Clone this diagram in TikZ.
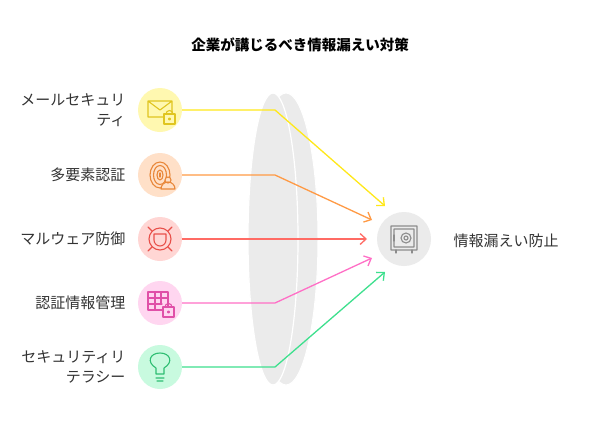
\documentclass[tikz,border=0pt]{standalone}
\usepackage{fontspec}
\setmainfont{Noto Sans CJK JP}
\usetikzlibrary{arrows.meta}
\definecolor{cYel}{HTML}{FFE81A}\definecolor{fYel}{HTML}{FFF8B0}\definecolor{iYel}{HTML}{E0C520}
\definecolor{cOra}{HTML}{FF9A45}\definecolor{fOra}{HTML}{FFE0C8}\definecolor{iOra}{HTML}{E8873A}
\definecolor{cRed}{HTML}{FF6B64}\definecolor{fRed}{HTML}{FFD6D4}\definecolor{iRed}{HTML}{E8504A}
\definecolor{cPnk}{HTML}{FF6FC6}\definecolor{fPnk}{HTML}{FFD6F0}\definecolor{iPnk}{HTML}{E050A8}
\definecolor{cGrn}{HTML}{3EE08E}\definecolor{fGrn}{HTML}{C8FADF}\definecolor{iGrn}{HTML}{2EBE72}
\definecolor{lens}{HTML}{EBEBEB}
\tikzset{
  ibg/.style={circle,minimum size=44pt,inner sep=0pt},
  lbl/.style={anchor=east,align=right,font=\fontsize{15}{20}\selectfont,text=black!80},
  link/.style={line width=1.3pt,-{Straight Barb[length=6pt,width=11pt]}},
  ico/.style={line width=1.1pt,line cap=round,line join=round}
}
\begin{document}
\begin{tikzpicture}[x=1pt,y=-1pt]
  \useasboundingbox[fill=white] (0,0) rectangle (602,429);
  %%%%% title
  \node[font=\bfseries\fontsize{14.5}{17}\selectfont] (title) at (300,45) {企業が講じるべき情報漏えい対策};
  %%%%% lens
  \fill[lens] (286,239) ellipse [x radius=32,y radius=146];
  \draw[white,line width=1pt] (286,239) ellipse [x radius=32,y radius=146];
  \draw[white,fill=lens,line width=1.2pt] (273,239) ellipse [x radius=25,y radius=146];
  %%%%% icon circles
  \node[ibg,fill=fYel] (mail) at (160,110) {};
  \node[ibg,fill=fOra] (auth) at (160,175) {};
  \node[ibg,fill=fRed] (malw) at (160,239) {};
  \node[ibg,fill=fPnk] (cred) at (160,303) {};
  \node[ibg,fill=fGrn] (edu) at (160,367) {};
  \node[circle,minimum size=54pt,inner sep=0pt,fill=lens] (safe) at (404,239) {};
  %%%%% labels
  \node[lbl] at (129,110) {メールセキュリ\\ティ};
  \node[lbl] at (129,175) {多要素認証};
  \node[lbl] at (129,239) {マルウェア防御};
  \node[lbl] at (129,303) {認証情報管理};
  \node[lbl] at (129,367) {セキュリティリ\\テラシー};
  \node[anchor=west,font=\fontsize{15}{20}\selectfont,text=black!80] (goal) at (450,241) {情報漏えい防止};
  %%%%% connectors
  \coordinate (tY) at (385,206);
  \coordinate (tO) at (372,220);
  \coordinate (tR) at (367,239);
  \coordinate (tP) at (372,258);
  \coordinate (tG) at (385,272);
  \draw[link,cYel] (mail.east) -- (275,110) -- (tY);
  \draw[link,cOra] (auth.east) -- (275,175) -- (tO);
  \draw[link,cRed] (malw.east) -- (tR);
  \draw[link,cPnk] (cred.east) -- (275,303) -- (tP);
  \draw[link,cGrn] (edu.east) -- (275,367) -- (tG);
  %%%%% icons
  \draw[ico,iYel] (148,101) rectangle (172,117) (148,101) -- (160,110) -- (172,101);
  \draw[ico,iYel,fill=fYel] (164,114) rectangle (175,124);
  \draw[ico,iYel] (166,114) arc (180:360:3.5);
  \draw[ico,iYel] (169.5,119) circle (1);
  \draw[ico,iOra] (160,175) ellipse [x radius=3,y radius=5] (160,175) ellipse [x radius=6.5,y radius=9.5] (160,175) ellipse [x radius=10,y radius=13];
  \draw[ico,iOra] (160,173) -- (160,177);
  \draw[ico,iOra,fill=fOra] (168,180) circle (3) (161,189) arc (180:360:7) -- cycle;
  \draw[ico,iRed] (160,239) circle (11) (154,234) -- (166,234) -- (166,240) arc (0:180:6) -- cycle;
  \draw[ico,iRed] (152,231) -- (148,227) (168,231) -- (172,227) (152,247) -- (148,251) (168,247) -- (172,251);
  \draw[ico,iPnk] (148,292) rectangle (168,310) (148,298) -- (168,298) (148,304) -- (162,304) (155,292) -- (155,310) (161,292) -- (161,304);
  \draw[ico,iPnk,fill=fPnk] (163,307) rectangle (174,317);
  \draw[ico,iPnk] (165,307) arc (180:360:3.5);
  \draw[ico,iPnk] (168.5,312) circle (1);
  \draw[ico,iGrn] (156,374) -- (156,368) .. controls (146,362) and (150,353) .. (160,353) .. controls (170,353) and (174,362) .. (164,368) -- (164,374) -- cycle (156,378) -- (164,378) (157,381) -- (163,381);
  \draw[ico,black!45] (391,226) rectangle (417,250) (394,229) rectangle (414,247) (406,238) circle (5) (406,238) circle (2);
  \draw[ico,black!45] (396,250) -- (396,253) (412,250) -- (412,253) (394,235) -- (394,241);
\end{tikzpicture}
\end{document}
